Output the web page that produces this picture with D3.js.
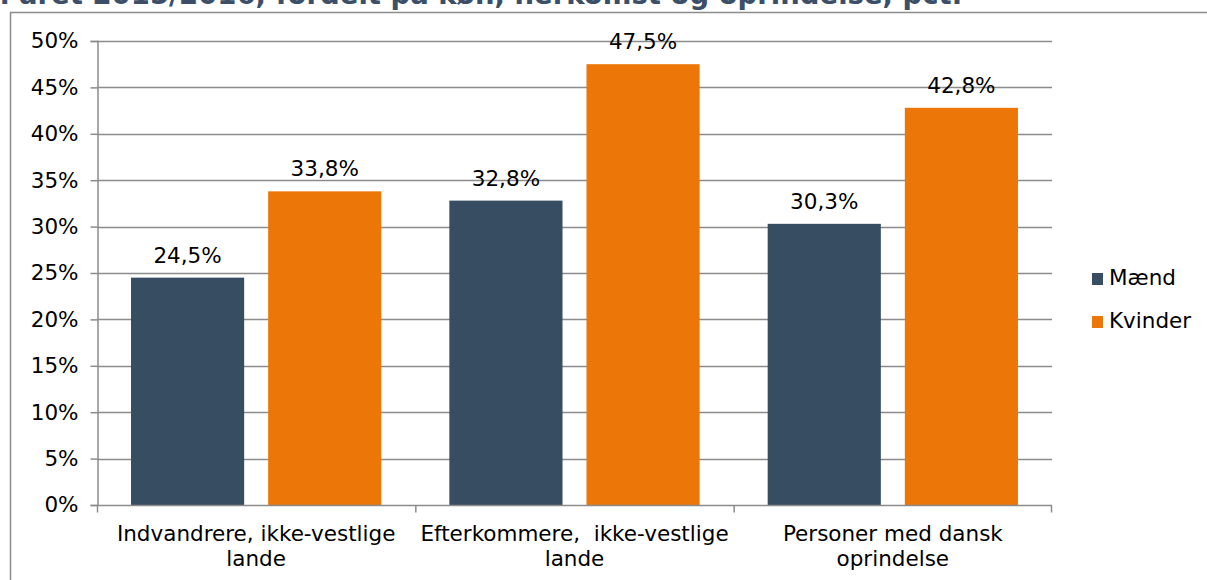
<!DOCTYPE html>
<html>
<head>
<meta charset="utf-8">
<script src="https://cdn.jsdelivr.net/npm/d3@7"></script>
<style>
  body { margin: 0; background: #fff; }
  svg { display: block; font-family: "DejaVu Sans", Verdana, sans-serif; }
</style>
</head>
<body>
<svg id="chart" width="1207" height="580"></svg>
<script>
// data
const categories = [
  ["Indvandrere, ikke-vestlige", "lande"],
  ["Efterkommere,  ikke-vestlige", "lande"],
  ["Personer med dansk", "oprindelse"]
];
const seriesNames = ["Mænd", "Kvinder"];
const maend = [24.5, 32.8, 30.3];
const kvinder = [33.8, 47.5, 42.8];
const yTicks = [0, 5, 10, 15, 20, 25, 30, 35, 40, 45, 50];
const titleText = "i året 2015/2016, fordelt på køn, herkomst og oprindelse, pct.";

const colors = ["#374d62", "#ec7608"];
const gridColor = "#8c8c8c";
const fontSize = 21.5;

const svg = d3.select("#chart");

// title (cut off at the top, as in the original)
svg.append("text")
  .attr("x", 0)
  .attr("y", 4)
  .attr("font-size", 27.5)
  .attr("font-weight", "bold")
  .attr("fill", "#3b5068")
  .text(titleText);

// outer border
svg.append("path")
  .attr("d", "M10.5,580 V12.5 H1207")
  .attr("fill", "none")
  .attr("stroke", gridColor)
  .attr("stroke-width", 1.5);

const plotLeft = 97, plotRight = 1052, plotTop = 41, plotBottom = 505;

const y = d3.scaleLinear().domain([0, 50]).range([plotBottom, plotTop]);
const x0 = d3.scaleBand().domain(d3.range(categories.length)).range([plotLeft, plotRight]);
const x1 = d3.scaleBand().domain(d3.range(seriesNames.length))
  .range([0, x0.bandwidth()]).paddingInner(0.175).paddingOuter(0.248);

// gridlines
svg.append("g")
  .selectAll("line")
  .data(yTicks.filter(d => d > 0))
  .join("line")
  .attr("x1", plotLeft).attr("x2", plotRight)
  .attr("y1", d => Math.round(y(d)) + 0.5)
  .attr("y2", d => Math.round(y(d)) + 0.5)
  .attr("stroke", gridColor)
  .attr("stroke-width", 1.5);

// y axis
const yAxis = svg.append("g")
  .attr("transform", `translate(${plotLeft + 0.5},0)`)
  .call(d3.axisLeft(y).tickValues(yTicks).tickFormat(d => d + "%").tickSize(7).tickPadding(12));
yAxis.selectAll("path, line").attr("stroke", gridColor).attr("stroke-width", 1.5);
yAxis.selectAll("text").attr("font-size", fontSize).attr("fill", "#000")
  .attr("font-family", "DejaVu Sans, Verdana, sans-serif");

// bars
const groups = svg.append("g")
  .selectAll("g")
  .data(categories.map((c, i) => i))
  .join("g")
  .attr("transform", i => `translate(${x0(i)},0)`);

const barData = i => [maend[i], kvinder[i]].map((v, s) => ({ s, v }));

groups.selectAll("rect")
  .data(barData)
  .join("rect")
  .attr("x", d => x1(d.s))
  .attr("y", d => y(d.v))
  .attr("width", x1.bandwidth())
  .attr("height", d => y(0) - y(d.v))
  .attr("fill", d => colors[d.s]);

groups.selectAll("text.val")
  .data(barData)
  .join("text")
  .attr("class", "val")
  .attr("x", d => x1(d.s) + x1.bandwidth() / 2)
  .attr("y", d => y(d.v) - 15)
  .attr("text-anchor", "middle")
  .attr("font-size", fontSize)
  .text(d => d.v.toFixed(1).replace(".", ",") + "%");

// x axis
const xAxis = svg.append("g")
  .attr("transform", `translate(0,${Math.round(plotBottom) + 0.5})`);
xAxis.append("line")
  .attr("x1", plotLeft).attr("x2", plotRight)
  .attr("stroke", gridColor).attr("stroke-width", 1.5);
xAxis.selectAll("line.tick")
  .data(d3.range(categories.length + 1))
  .join("line")
  .attr("class", "tick")
  .attr("x1", i => i < categories.length ? x0(i) + 0.5 : plotRight - 0.5)
  .attr("x2", i => i < categories.length ? x0(i) + 0.5 : plotRight - 0.5)
  .attr("y1", 0).attr("y2", 7)
  .attr("stroke", gridColor).attr("stroke-width", 1.5);

xAxis.selectAll("text")
  .data(categories)
  .join("text")
  .attr("text-anchor", "middle")
  .attr("font-size", fontSize)
  .attr("x", (d, i) => x0(i) + x0.bandwidth() / 2)
  .attr("y", 35)
  .style("white-space", "pre")
  .selectAll("tspan")
  .data(d => d)
  .join("tspan")
  .attr("x", function () { return this.parentNode.getAttribute("x"); })
  .attr("dy", (d, i) => i === 0 ? 0 : 25)
  .text(d => d);

// legend
const legend = svg.append("g").attr("transform", "translate(1092,279)");
const li = legend.selectAll("g")
  .data(seriesNames)
  .join("g")
  .attr("transform", (d, i) => `translate(0,${i * 43})`);
li.append("rect")
  .attr("x", 0).attr("y", -6)
  .attr("width", 11).attr("height", 12)
  .attr("fill", (d, i) => colors[i]);
li.append("text")
  .attr("x", 17).attr("y", 6)
  .attr("font-size", fontSize)
  .text(d => d);
</script>
</body>
</html>
